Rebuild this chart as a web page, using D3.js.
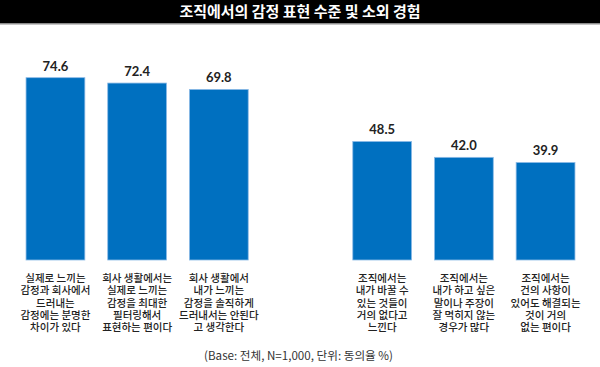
<!DOCTYPE html>
<html>
<head>
<meta charset="utf-8">
<script src="https://cdn.jsdelivr.net/npm/d3@7"></script>
<style>
  body { margin: 0; background: #fff; }
  svg text { font-family: "Noto Sans CJK KR", "Noto Sans", sans-serif; }
</style>
</head>
<body>
<div id="chart"></div>
<script>
// data
var titleText = "조직에서의 감정 표현 수준 및 소외 경험";
var noteText = "(Base: 전체, N=1,000, 단위: 동의율 %)";
var keys = ["a", "b", "c", "gap", "d", "e", "f"];
var values = [74.6, 72.4, 69.8, null, 48.5, 42.0, 39.9];
var labels = [
    ["실제로 느끼는", "감정과 회사에서", "드러내는", "감정에는 분명한", "차이가 있다"],
    ["회사 생활에서는", "실제로 느끼는", "감정을 최대한", "필터링해서", "표현하는 편이다"],
    ["회사 생활에서", "내가 느끼는", "감정을 솔직하게", "드러내서는 안된다", "고 생각한다"],
    [],
    ["조직에서는", "내가 바꿀 수", "있는 것들이", "거의 없다고", "느낀다"],
    ["조직에서는", "내가 하고 싶은", "말이나 주장이", "잘 먹히지 않는", "경우가 많다"],
    ["조직에서는", "건의 사항이", "있어도 해결되는", "것이 거의", "없는 편이다"]
];

var W = 600, H = 367;
var svg = d3.select("#chart").append("svg")
    .attr("width", W)
    .attr("height", H);

// title bar
svg.append("rect")
    .attr("x", 0).attr("y", 0)
    .attr("width", W).attr("height", 23)
    .attr("fill", "#000");
svg.append("rect")
    .attr("x", 0).attr("y", 23)
    .attr("width", W).attr("height", 1.5)
    .attr("fill", "#8c8c8c");
svg.append("text")
    .attr("x", 300).attr("y", 17)
    .attr("text-anchor", "middle")
    .attr("fill", "#fff")
    .attr("font-size", 15)
    .attr("font-weight", "bold")
    .text(titleText);

var data = keys.map(function(k, i) { return { key: k, v: values[i], lab: labels[i] }; })
    .filter(function(d) { return d.v != null; });

var x = d3.scaleBand()
    .domain(keys)
    .range([14.6, 586.4])
    .paddingInner(0.28)
    .paddingOuter(0.14);

var y = d3.scaleLinear()
    .domain([0, 100])
    .range([260, 15.6]);

svg.selectAll("rect.bar")
    .data(data)
    .enter()
    .append("rect")
        .attr("class", "bar")
        .attr("x", function(d) { return x(d.key); })
        .attr("y", function(d) { return y(d.v); })
        .attr("width", x.bandwidth())
        .attr("height", function(d) { return y(0) - y(d.v); })
        .attr("fill", "#0070c0")
        .attr("stroke", "#8dbbe6")
        .attr("stroke-width", 0.8);

svg.selectAll("text.val")
    .data(data)
    .enter()
    .append("text")
        .attr("class", "val")
        .attr("x", function(d) { return x(d.key) + x.bandwidth() / 2; })
        .attr("y", function(d) { return y(d.v) - 7; })
        .attr("text-anchor", "middle")
        .attr("fill", "#222")
        .attr("font-size", 13)
        .attr("font-weight", "bold")
        .style("font-family", "Lato, sans-serif")
        .text(function(d) { return d.v.toFixed(1); });

var lab = svg.selectAll("text.cat")
    .data(data)
    .enter()
    .append("text")
        .attr("class", "cat")
        .attr("text-anchor", "middle")
        .attr("fill", "#222")
        .attr("font-size", 10.5)
        .attr("font-weight", 500);

lab.selectAll("tspan")
    .data(function(d) { return d.lab.map(function(t) { return { t: t, cx: x(d.key) + x.bandwidth() / 2 }; }); })
    .enter()
    .append("tspan")
        .attr("x", function(d) { return d.cx; })
        .attr("y", function(d, i) { return 282 + i * 12.3; })
        .text(function(d) { return d.t; });

svg.append("text")
    .attr("x", 298.5).attr("y", 360)
    .attr("text-anchor", "middle")
    .attr("fill", "#333")
    .attr("font-size", 11.6)
    .text(noteText);
</script>
</body>
</html>
